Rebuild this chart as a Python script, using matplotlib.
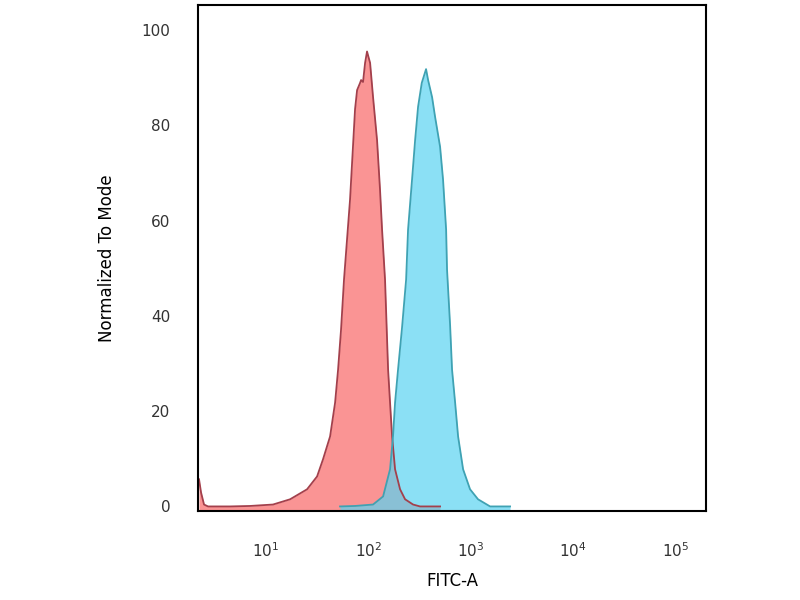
import numpy as np
import matplotlib
matplotlib.use("Agg")
import matplotlib.pyplot as plt
from matplotlib.ticker import FixedLocator, NullLocator

# FITC-A histograms, x given as log10(intensity), y normalized to mode
red_log = [0.345, 0.365, 0.394, 0.433, 0.648, 0.844, 1.068, 1.235, 1.401, 1.499,
           1.557, 1.626, 1.675, 1.704, 1.733, 1.762, 1.821, 1.870, 1.890, 1.919,
           1.929, 1.948, 1.968, 1.987, 2.017, 2.046, 2.085, 2.114, 2.134, 2.163,
           2.193, 2.212, 2.232, 2.261, 2.310, 2.359, 2.437, 2.505, 2.701]
red_val = [5.7, 2.9, 0.4, 0.0, 0.0, 0.1, 0.4, 1.5, 3.6, 6.3,
           9.9, 14.7, 21.8, 28.7, 37.1, 47.6, 64.4, 83.4, 87.4, 88.9,
           89.5, 89.1, 93.1, 95.5, 93.1, 85.9, 76.9, 66.5, 58.1, 47.6,
           28.7, 21.8, 14.7, 7.8, 3.6, 1.5, 0.4, 0.0, 0.0]

blue_log = [1.723, 1.870, 2.046, 2.144, 2.212, 2.241, 2.261, 2.290, 2.329, 2.369,
            2.388, 2.427, 2.457, 2.486, 2.522, 2.564, 2.584, 2.623, 2.652, 2.701,
            2.730, 2.760, 2.769, 2.799, 2.818, 2.848, 2.877, 2.926, 2.994, 3.072,
            3.190, 3.385]
blue_val = [0.0, 0.1, 0.4, 2.1, 7.8, 14.7, 21.8, 28.7, 37.5, 47.6,
            58.1, 68.6, 76.9, 83.9, 88.9, 91.8, 89.5, 85.9, 81.8, 75.5,
            68.6, 58.1, 49.7, 38.0, 28.7, 21.8, 14.7, 7.8, 3.6, 1.5,
            0.0, 0.0]

x_ticks = [1, 2, 3, 4, 5]
y_ticks = [0, 20, 40, 60, 80, 100]

fig = plt.figure(figsize=(8, 6), dpi=100)
ax = fig.add_axes([0.2475, 0.148, 0.635, 0.844])

rx = 10 ** np.array(red_log)
bx = 10 ** np.array(blue_log)

ax.fill_between(rx, red_val, -5, color="#fa9494", lw=0)
ax.plot(rx, red_val, color="#a3404c", lw=1.3)
ax.fill_between(bx, blue_val, -5, color="#5ad4f1", alpha=0.7, lw=0)
ax.plot(bx, blue_val, color="#3fa2b3", lw=1.3)

ax.set_xscale("log")
ax.set_xlim(10 ** 0.335, 10 ** 5.30)
ax.set_ylim(-1, 105.3)
ax.xaxis.set_major_locator(FixedLocator([10 ** t for t in x_ticks]))
ax.xaxis.set_minor_locator(NullLocator())
ax.set_xticklabels(["$10^{%d}$" % t for t in x_ticks])
ax.set_yticks(y_ticks)

ax.tick_params(axis="both", length=0, labelsize=11, labelcolor="#333333")
ax.tick_params(axis="x", pad=22)
ax.tick_params(axis="y", pad=20)
for s in ax.spines.values():
    s.set_linewidth(1.5)

ax.set_xlabel("FITC-A", fontsize=12, labelpad=8)
ax.set_ylabel("Normalized To Mode", fontsize=12, labelpad=18)

fig.savefig("out.png", dpi=100)
